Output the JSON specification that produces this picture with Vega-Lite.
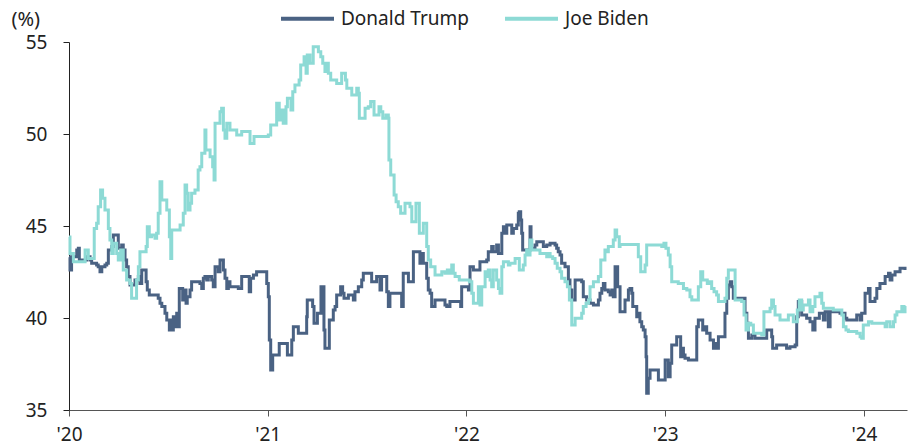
{
  "$schema": "https://vega.github.io/schema/vega-lite/v6.json",
  "width": 838,
  "height": 368,
  "autosize": {"type": "none"},
  "padding": {"left": 69, "top": 42, "right": 5, "bottom": 37},
  "background": "white",
  "config": {
    "view": {"stroke": null},
    "font": "Noto Sans",
    "axis": {"labelFont": "Noto Sans", "titleFont": "Noto Sans", "labelColor": "#222", "titleColor": "#222", "grid": false}
  },
  "data": {
    "values": [
      {"s":"Donald Trump","t":2020.000,"v":43.30},{"s":"Donald Trump","t":2020.005,"v":42.61},{"s":"Donald Trump","t":2020.013,"v":43.33},{"s":"Donald Trump","t":2020.039,"v":43.70},{"s":"Donald Trump","t":2020.047,"v":43.79},{"s":"Donald Trump","t":2020.052,"v":43.15},{"s":"Donald Trump","t":2020.089,"v":43.33},{"s":"Donald Trump","t":2020.106,"v":43.15},{"s":"Donald Trump","t":2020.114,"v":42.97},{"s":"Donald Trump","t":2020.139,"v":42.88},{"s":"Donald Trump","t":2020.147,"v":42.79},{"s":"Donald Trump","t":2020.156,"v":42.52},{"s":"Donald Trump","t":2020.165,"v":42.79},{"s":"Donald Trump","t":2020.181,"v":42.88},{"s":"Donald Trump","t":2020.190,"v":42.97},{"s":"Donald Trump","t":2020.198,"v":43.70},{"s":"Donald Trump","t":2020.215,"v":43.88},{"s":"Donald Trump","t":2020.223,"v":44.51},{"s":"Donald Trump","t":2020.248,"v":43.79},{"s":"Donald Trump","t":2020.265,"v":43.97},{"s":"Donald Trump","t":2020.273,"v":43.70},{"s":"Donald Trump","t":2020.282,"v":43.15},{"s":"Donald Trump","t":2020.290,"v":42.79},{"s":"Donald Trump","t":2020.298,"v":42.25},{"s":"Donald Trump","t":2020.307,"v":41.79},{"s":"Donald Trump","t":2020.332,"v":42.07},{"s":"Donald Trump","t":2020.349,"v":42.25},{"s":"Donald Trump","t":2020.357,"v":41.88},{"s":"Donald Trump","t":2020.366,"v":42.61},{"s":"Donald Trump","t":2020.388,"v":41.97},{"s":"Donald Trump","t":2020.394,"v":41.52},{"s":"Donald Trump","t":2020.404,"v":41.25},{"s":"Donald Trump","t":2020.449,"v":41.07},{"s":"Donald Trump","t":2020.458,"v":40.80},{"s":"Donald Trump","t":2020.467,"v":40.62},{"s":"Donald Trump","t":2020.483,"v":40.26},{"s":"Donald Trump","t":2020.492,"v":39.89},{"s":"Donald Trump","t":2020.505,"v":39.35},{"s":"Donald Trump","t":2020.512,"v":39.89},{"s":"Donald Trump","t":2020.518,"v":39.35},{"s":"Donald Trump","t":2020.525,"v":40.07},{"s":"Donald Trump","t":2020.533,"v":39.53},{"s":"Donald Trump","t":2020.542,"v":40.26},{"s":"Donald Trump","t":2020.547,"v":39.53},{"s":"Donald Trump","t":2020.555,"v":41.61},{"s":"Donald Trump","t":2020.572,"v":40.98},{"s":"Donald Trump","t":2020.579,"v":41.52},{"s":"Donald Trump","t":2020.589,"v":40.80},{"s":"Donald Trump","t":2020.595,"v":41.16},{"s":"Donald Trump","t":2020.609,"v":41.52},{"s":"Donald Trump","t":2020.617,"v":41.97},{"s":"Donald Trump","t":2020.659,"v":41.88},{"s":"Donald Trump","t":2020.668,"v":41.61},{"s":"Donald Trump","t":2020.676,"v":42.16},{"s":"Donald Trump","t":2020.684,"v":42.25},{"s":"Donald Trump","t":2020.693,"v":42.07},{"s":"Donald Trump","t":2020.701,"v":42.25},{"s":"Donald Trump","t":2020.718,"v":42.07},{"s":"Donald Trump","t":2020.726,"v":41.70},{"s":"Donald Trump","t":2020.735,"v":42.79},{"s":"Donald Trump","t":2020.751,"v":42.52},{"s":"Donald Trump","t":2020.760,"v":43.15},{"s":"Donald Trump","t":2020.777,"v":42.61},{"s":"Donald Trump","t":2020.785,"v":42.16},{"s":"Donald Trump","t":2020.794,"v":41.61},{"s":"Donald Trump","t":2020.802,"v":41.97},{"s":"Donald Trump","t":2020.810,"v":41.70},{"s":"Donald Trump","t":2020.852,"v":41.61},{"s":"Donald Trump","t":2020.869,"v":42.25},{"s":"Donald Trump","t":2020.907,"v":41.43},{"s":"Donald Trump","t":2020.914,"v":42.16},{"s":"Donald Trump","t":2020.928,"v":42.34},{"s":"Donald Trump","t":2020.944,"v":42.52},{"s":"Donald Trump","t":2020.995,"v":41.88},{"s":"Donald Trump","t":2021.003,"v":41.16},{"s":"Donald Trump","t":2021.008,"v":38.80},{"s":"Donald Trump","t":2021.015,"v":37.17},{"s":"Donald Trump","t":2021.025,"v":37.99},{"s":"Donald Trump","t":2021.058,"v":38.62},{"s":"Donald Trump","t":2021.099,"v":37.99},{"s":"Donald Trump","t":2021.121,"v":38.80},{"s":"Donald Trump","t":2021.129,"v":39.53},{"s":"Donald Trump","t":2021.154,"v":39.17},{"s":"Donald Trump","t":2021.196,"v":40.07},{"s":"Donald Trump","t":2021.199,"v":40.98},{"s":"Donald Trump","t":2021.226,"v":40.62},{"s":"Donald Trump","t":2021.233,"v":39.71},{"s":"Donald Trump","t":2021.250,"v":40.26},{"s":"Donald Trump","t":2021.268,"v":41.70},{"s":"Donald Trump","t":2021.283,"v":39.35},{"s":"Donald Trump","t":2021.288,"v":38.35},{"s":"Donald Trump","t":2021.310,"v":39.89},{"s":"Donald Trump","t":2021.330,"v":40.43},{"s":"Donald Trump","t":2021.339,"v":40.62},{"s":"Donald Trump","t":2021.347,"v":41.25},{"s":"Donald Trump","t":2021.367,"v":41.70},{"s":"Donald Trump","t":2021.377,"v":41.34},{"s":"Donald Trump","t":2021.384,"v":41.07},{"s":"Donald Trump","t":2021.406,"v":41.25},{"s":"Donald Trump","t":2021.431,"v":40.98},{"s":"Donald Trump","t":2021.439,"v":41.43},{"s":"Donald Trump","t":2021.456,"v":41.70},{"s":"Donald Trump","t":2021.473,"v":42.07},{"s":"Donald Trump","t":2021.481,"v":42.43},{"s":"Donald Trump","t":2021.523,"v":41.97},{"s":"Donald Trump","t":2021.548,"v":42.25},{"s":"Donald Trump","t":2021.565,"v":41.52},{"s":"Donald Trump","t":2021.573,"v":42.25},{"s":"Donald Trump","t":2021.599,"v":41.43},{"s":"Donald Trump","t":2021.607,"v":40.62},{"s":"Donald Trump","t":2021.615,"v":41.34},{"s":"Donald Trump","t":2021.674,"v":40.62},{"s":"Donald Trump","t":2021.682,"v":42.43},{"s":"Donald Trump","t":2021.708,"v":41.97},{"s":"Donald Trump","t":2021.733,"v":43.60},{"s":"Donald Trump","t":2021.766,"v":42.97},{"s":"Donald Trump","t":2021.775,"v":43.51},{"s":"Donald Trump","t":2021.783,"v":42.97},{"s":"Donald Trump","t":2021.800,"v":42.16},{"s":"Donald Trump","t":2021.808,"v":41.52},{"s":"Donald Trump","t":2021.817,"v":41.34},{"s":"Donald Trump","t":2021.825,"v":40.62},{"s":"Donald Trump","t":2021.842,"v":40.98},{"s":"Donald Trump","t":2021.892,"v":40.71},{"s":"Donald Trump","t":2021.901,"v":40.62},{"s":"Donald Trump","t":2021.917,"v":40.89},{"s":"Donald Trump","t":2021.971,"v":40.62},{"s":"Donald Trump","t":2021.976,"v":41.70},{"s":"Donald Trump","t":2022.010,"v":41.52},{"s":"Donald Trump","t":2022.018,"v":42.79},{"s":"Donald Trump","t":2022.035,"v":42.61},{"s":"Donald Trump","t":2022.068,"v":43.06},{"s":"Donald Trump","t":2022.102,"v":43.15},{"s":"Donald Trump","t":2022.110,"v":43.60},{"s":"Donald Trump","t":2022.127,"v":43.88},{"s":"Donald Trump","t":2022.135,"v":43.60},{"s":"Donald Trump","t":2022.152,"v":43.97},{"s":"Donald Trump","t":2022.161,"v":43.51},{"s":"Donald Trump","t":2022.178,"v":44.60},{"s":"Donald Trump","t":2022.186,"v":44.96},{"s":"Donald Trump","t":2022.194,"v":44.60},{"s":"Donald Trump","t":2022.203,"v":45.05},{"s":"Donald Trump","t":2022.228,"v":44.60},{"s":"Donald Trump","t":2022.236,"v":44.87},{"s":"Donald Trump","t":2022.253,"v":45.05},{"s":"Donald Trump","t":2022.261,"v":45.69},{"s":"Donald Trump","t":2022.266,"v":45.78},{"s":"Donald Trump","t":2022.273,"v":45.33},{"s":"Donald Trump","t":2022.278,"v":44.60},{"s":"Donald Trump","t":2022.283,"v":43.70},{"s":"Donald Trump","t":2022.320,"v":44.96},{"s":"Donald Trump","t":2022.325,"v":43.79},{"s":"Donald Trump","t":2022.345,"v":43.97},{"s":"Donald Trump","t":2022.354,"v":44.15},{"s":"Donald Trump","t":2022.387,"v":43.88},{"s":"Donald Trump","t":2022.404,"v":43.97},{"s":"Donald Trump","t":2022.421,"v":44.06},{"s":"Donald Trump","t":2022.446,"v":43.97},{"s":"Donald Trump","t":2022.454,"v":43.79},{"s":"Donald Trump","t":2022.462,"v":43.60},{"s":"Donald Trump","t":2022.471,"v":43.42},{"s":"Donald Trump","t":2022.479,"v":42.97},{"s":"Donald Trump","t":2022.496,"v":42.79},{"s":"Donald Trump","t":2022.513,"v":42.07},{"s":"Donald Trump","t":2022.521,"v":41.52},{"s":"Donald Trump","t":2022.530,"v":40.98},{"s":"Donald Trump","t":2022.547,"v":42.07},{"s":"Donald Trump","t":2022.580,"v":41.97},{"s":"Donald Trump","t":2022.588,"v":41.16},{"s":"Donald Trump","t":2022.605,"v":40.98},{"s":"Donald Trump","t":2022.622,"v":40.80},{"s":"Donald Trump","t":2022.639,"v":40.71},{"s":"Donald Trump","t":2022.664,"v":40.98},{"s":"Donald Trump","t":2022.672,"v":41.34},{"s":"Donald Trump","t":2022.681,"v":41.61},{"s":"Donald Trump","t":2022.689,"v":41.88},{"s":"Donald Trump","t":2022.697,"v":41.52},{"s":"Donald Trump","t":2022.714,"v":41.43},{"s":"Donald Trump","t":2022.723,"v":41.25},{"s":"Donald Trump","t":2022.731,"v":41.52},{"s":"Donald Trump","t":2022.739,"v":41.16},{"s":"Donald Trump","t":2022.748,"v":42.79},{"s":"Donald Trump","t":2022.761,"v":41.70},{"s":"Donald Trump","t":2022.773,"v":40.34},{"s":"Donald Trump","t":2022.798,"v":40.98},{"s":"Donald Trump","t":2022.815,"v":41.52},{"s":"Donald Trump","t":2022.823,"v":41.61},{"s":"Donald Trump","t":2022.832,"v":41.34},{"s":"Donald Trump","t":2022.837,"v":40.62},{"s":"Donald Trump","t":2022.857,"v":40.07},{"s":"Donald Trump","t":2022.865,"v":40.26},{"s":"Donald Trump","t":2022.873,"v":39.80},{"s":"Donald Trump","t":2022.882,"v":39.53},{"s":"Donald Trump","t":2022.890,"v":39.35},{"s":"Donald Trump","t":2022.899,"v":38.98},{"s":"Donald Trump","t":2022.904,"v":37.90},{"s":"Donald Trump","t":2022.907,"v":35.91},{"s":"Donald Trump","t":2022.915,"v":36.72},{"s":"Donald Trump","t":2022.924,"v":37.17},{"s":"Donald Trump","t":2022.966,"v":36.63},{"s":"Donald Trump","t":2023.000,"v":37.72},{"s":"Donald Trump","t":2023.016,"v":36.81},{"s":"Donald Trump","t":2023.025,"v":37.54},{"s":"Donald Trump","t":2023.033,"v":38.53},{"s":"Donald Trump","t":2023.058,"v":38.98},{"s":"Donald Trump","t":2023.078,"v":37.90},{"s":"Donald Trump","t":2023.085,"v":38.35},{"s":"Donald Trump","t":2023.092,"v":37.99},{"s":"Donald Trump","t":2023.100,"v":37.81},{"s":"Donald Trump","t":2023.117,"v":37.72},{"s":"Donald Trump","t":2023.159,"v":39.53},{"s":"Donald Trump","t":2023.167,"v":39.89},{"s":"Donald Trump","t":2023.189,"v":39.35},{"s":"Donald Trump","t":2023.201,"v":39.53},{"s":"Donald Trump","t":2023.209,"v":39.17},{"s":"Donald Trump","t":2023.226,"v":38.80},{"s":"Donald Trump","t":2023.243,"v":38.35},{"s":"Donald Trump","t":2023.251,"v":38.62},{"s":"Donald Trump","t":2023.259,"v":38.35},{"s":"Donald Trump","t":2023.268,"v":38.98},{"s":"Donald Trump","t":2023.301,"v":40.26},{"s":"Donald Trump","t":2023.310,"v":41.07},{"s":"Donald Trump","t":2023.318,"v":41.79},{"s":"Donald Trump","t":2023.327,"v":41.97},{"s":"Donald Trump","t":2023.335,"v":41.70},{"s":"Donald Trump","t":2023.343,"v":41.07},{"s":"Donald Trump","t":2023.402,"v":40.26},{"s":"Donald Trump","t":2023.411,"v":39.71},{"s":"Donald Trump","t":2023.419,"v":38.90},{"s":"Donald Trump","t":2023.436,"v":39.08},{"s":"Donald Trump","t":2023.452,"v":38.90},{"s":"Donald Trump","t":2023.511,"v":39.35},{"s":"Donald Trump","t":2023.536,"v":38.98},{"s":"Donald Trump","t":2023.541,"v":38.35},{"s":"Donald Trump","t":2023.561,"v":38.53},{"s":"Donald Trump","t":2023.611,"v":38.35},{"s":"Donald Trump","t":2023.628,"v":38.44},{"s":"Donald Trump","t":2023.654,"v":38.53},{"s":"Donald Trump","t":2023.662,"v":40.07},{"s":"Donald Trump","t":2023.670,"v":40.89},{"s":"Donald Trump","t":2023.687,"v":40.16},{"s":"Donald Trump","t":2023.712,"v":39.98},{"s":"Donald Trump","t":2023.729,"v":39.80},{"s":"Donald Trump","t":2023.743,"v":39.35},{"s":"Donald Trump","t":2023.754,"v":39.98},{"s":"Donald Trump","t":2023.776,"v":40.26},{"s":"Donald Trump","t":2023.796,"v":39.89},{"s":"Donald Trump","t":2023.805,"v":40.34},{"s":"Donald Trump","t":2023.821,"v":39.53},{"s":"Donald Trump","t":2023.830,"v":40.34},{"s":"Donald Trump","t":2023.880,"v":40.26},{"s":"Donald Trump","t":2023.905,"v":39.98},{"s":"Donald Trump","t":2023.914,"v":39.89},{"s":"Donald Trump","t":2023.964,"v":40.16},{"s":"Donald Trump","t":2023.981,"v":39.89},{"s":"Donald Trump","t":2023.989,"v":40.26},{"s":"Donald Trump","t":2024.006,"v":41.34},{"s":"Donald Trump","t":2024.023,"v":41.61},{"s":"Donald Trump","t":2024.031,"v":40.89},{"s":"Donald Trump","t":2024.056,"v":41.07},{"s":"Donald Trump","t":2024.065,"v":41.61},{"s":"Donald Trump","t":2024.081,"v":41.88},{"s":"Donald Trump","t":2024.107,"v":42.25},{"s":"Donald Trump","t":2024.124,"v":42.43},{"s":"Donald Trump","t":2024.132,"v":42.07},{"s":"Donald Trump","t":2024.141,"v":42.34},{"s":"Donald Trump","t":2024.157,"v":42.52},{"s":"Donald Trump","t":2024.182,"v":42.70},{"s":"Donald Trump","t":2024.207,"v":42.61},
      {"s":"Joe Biden","t":2020.000,"v":44.40},{"s":"Joe Biden","t":2020.005,"v":43.51},{"s":"Joe Biden","t":2020.022,"v":43.06},{"s":"Joe Biden","t":2020.081,"v":43.70},{"s":"Joe Biden","t":2020.097,"v":43.24},{"s":"Joe Biden","t":2020.127,"v":44.87},{"s":"Joe Biden","t":2020.139,"v":45.15},{"s":"Joe Biden","t":2020.147,"v":46.05},{"s":"Joe Biden","t":2020.159,"v":46.96},{"s":"Joe Biden","t":2020.169,"v":46.51},{"s":"Joe Biden","t":2020.181,"v":45.87},{"s":"Joe Biden","t":2020.198,"v":44.87},{"s":"Joe Biden","t":2020.206,"v":44.24},{"s":"Joe Biden","t":2020.215,"v":43.51},{"s":"Joe Biden","t":2020.223,"v":44.06},{"s":"Joe Biden","t":2020.240,"v":43.51},{"s":"Joe Biden","t":2020.248,"v":43.15},{"s":"Joe Biden","t":2020.260,"v":43.70},{"s":"Joe Biden","t":2020.273,"v":42.61},{"s":"Joe Biden","t":2020.290,"v":42.07},{"s":"Joe Biden","t":2020.307,"v":41.88},{"s":"Joe Biden","t":2020.315,"v":41.07},{"s":"Joe Biden","t":2020.340,"v":42.07},{"s":"Joe Biden","t":2020.349,"v":42.79},{"s":"Joe Biden","t":2020.357,"v":43.60},{"s":"Joe Biden","t":2020.388,"v":43.88},{"s":"Joe Biden","t":2020.394,"v":44.96},{"s":"Joe Biden","t":2020.404,"v":44.42},{"s":"Joe Biden","t":2020.416,"v":44.51},{"s":"Joe Biden","t":2020.433,"v":44.33},{"s":"Joe Biden","t":2020.441,"v":44.60},{"s":"Joe Biden","t":2020.449,"v":45.69},{"s":"Joe Biden","t":2020.458,"v":47.41},{"s":"Joe Biden","t":2020.467,"v":46.41},{"s":"Joe Biden","t":2020.492,"v":45.87},{"s":"Joe Biden","t":2020.505,"v":44.42},{"s":"Joe Biden","t":2020.512,"v":43.24},{"s":"Joe Biden","t":2020.517,"v":44.78},{"s":"Joe Biden","t":2020.559,"v":45.05},{"s":"Joe Biden","t":2020.575,"v":45.69},{"s":"Joe Biden","t":2020.584,"v":47.23},{"s":"Joe Biden","t":2020.592,"v":46.78},{"s":"Joe Biden","t":2020.600,"v":45.87},{"s":"Joe Biden","t":2020.609,"v":46.23},{"s":"Joe Biden","t":2020.617,"v":46.78},{"s":"Joe Biden","t":2020.634,"v":46.96},{"s":"Joe Biden","t":2020.650,"v":48.04},{"s":"Joe Biden","t":2020.659,"v":48.22},{"s":"Joe Biden","t":2020.668,"v":48.95},{"s":"Joe Biden","t":2020.684,"v":50.22},{"s":"Joe Biden","t":2020.689,"v":49.13},{"s":"Joe Biden","t":2020.710,"v":48.77},{"s":"Joe Biden","t":2020.723,"v":48.22},{"s":"Joe Biden","t":2020.730,"v":47.50},{"s":"Joe Biden","t":2020.735,"v":50.58},{"s":"Joe Biden","t":2020.760,"v":51.21},{"s":"Joe Biden","t":2020.768,"v":51.40},{"s":"Joe Biden","t":2020.777,"v":50.22},{"s":"Joe Biden","t":2020.785,"v":49.77},{"s":"Joe Biden","t":2020.794,"v":50.58},{"s":"Joe Biden","t":2020.810,"v":50.22},{"s":"Joe Biden","t":2020.844,"v":49.95},{"s":"Joe Biden","t":2020.869,"v":50.13},{"s":"Joe Biden","t":2020.911,"v":49.49},{"s":"Joe Biden","t":2020.931,"v":49.86},{"s":"Joe Biden","t":2021.003,"v":49.95},{"s":"Joe Biden","t":2021.015,"v":50.49},{"s":"Joe Biden","t":2021.045,"v":51.67},{"s":"Joe Biden","t":2021.058,"v":50.76},{"s":"Joe Biden","t":2021.070,"v":51.30},{"s":"Joe Biden","t":2021.078,"v":50.58},{"s":"Joe Biden","t":2021.092,"v":51.48},{"s":"Joe Biden","t":2021.099,"v":51.94},{"s":"Joe Biden","t":2021.117,"v":51.30},{"s":"Joe Biden","t":2021.126,"v":52.30},{"s":"Joe Biden","t":2021.137,"v":52.66},{"s":"Joe Biden","t":2021.158,"v":52.93},{"s":"Joe Biden","t":2021.166,"v":53.75},{"s":"Joe Biden","t":2021.183,"v":54.20},{"s":"Joe Biden","t":2021.193,"v":53.30},{"s":"Joe Biden","t":2021.199,"v":54.29},{"s":"Joe Biden","t":2021.213,"v":53.84},{"s":"Joe Biden","t":2021.229,"v":54.74},{"s":"Joe Biden","t":2021.255,"v":54.47},{"s":"Joe Biden","t":2021.267,"v":54.20},{"s":"Joe Biden","t":2021.277,"v":53.84},{"s":"Joe Biden","t":2021.288,"v":53.39},{"s":"Joe Biden","t":2021.297,"v":53.84},{"s":"Joe Biden","t":2021.305,"v":53.30},{"s":"Joe Biden","t":2021.317,"v":52.93},{"s":"Joe Biden","t":2021.347,"v":52.75},{"s":"Joe Biden","t":2021.372,"v":53.30},{"s":"Joe Biden","t":2021.391,"v":52.93},{"s":"Joe Biden","t":2021.398,"v":52.48},{"s":"Joe Biden","t":2021.423,"v":52.12},{"s":"Joe Biden","t":2021.448,"v":52.48},{"s":"Joe Biden","t":2021.456,"v":52.21},{"s":"Joe Biden","t":2021.461,"v":50.85},{"s":"Joe Biden","t":2021.490,"v":51.40},{"s":"Joe Biden","t":2021.506,"v":51.48},{"s":"Joe Biden","t":2021.518,"v":51.76},{"s":"Joe Biden","t":2021.535,"v":51.03},{"s":"Joe Biden","t":2021.560,"v":51.48},{"s":"Joe Biden","t":2021.569,"v":51.21},{"s":"Joe Biden","t":2021.579,"v":50.85},{"s":"Joe Biden","t":2021.595,"v":51.03},{"s":"Joe Biden","t":2021.607,"v":50.85},{"s":"Joe Biden","t":2021.610,"v":48.59},{"s":"Joe Biden","t":2021.619,"v":47.77},{"s":"Joe Biden","t":2021.636,"v":46.68},{"s":"Joe Biden","t":2021.646,"v":46.32},{"s":"Joe Biden","t":2021.657,"v":46.05},{"s":"Joe Biden","t":2021.669,"v":45.69},{"s":"Joe Biden","t":2021.691,"v":46.23},{"s":"Joe Biden","t":2021.716,"v":46.05},{"s":"Joe Biden","t":2021.725,"v":45.23},{"s":"Joe Biden","t":2021.746,"v":46.23},{"s":"Joe Biden","t":2021.763,"v":44.60},{"s":"Joe Biden","t":2021.783,"v":45.15},{"s":"Joe Biden","t":2021.800,"v":43.88},{"s":"Joe Biden","t":2021.808,"v":43.15},{"s":"Joe Biden","t":2021.820,"v":42.79},{"s":"Joe Biden","t":2021.842,"v":42.34},{"s":"Joe Biden","t":2021.876,"v":42.52},{"s":"Joe Biden","t":2021.892,"v":42.43},{"s":"Joe Biden","t":2021.904,"v":42.61},{"s":"Joe Biden","t":2021.914,"v":42.43},{"s":"Joe Biden","t":2021.926,"v":42.88},{"s":"Joe Biden","t":2021.934,"v":42.43},{"s":"Joe Biden","t":2021.943,"v":42.25},{"s":"Joe Biden","t":2021.964,"v":42.07},{"s":"Joe Biden","t":2022.015,"v":41.97},{"s":"Joe Biden","t":2022.027,"v":41.34},{"s":"Joe Biden","t":2022.035,"v":40.80},{"s":"Joe Biden","t":2022.060,"v":41.70},{"s":"Joe Biden","t":2022.068,"v":40.71},{"s":"Joe Biden","t":2022.077,"v":41.70},{"s":"Joe Biden","t":2022.094,"v":42.52},{"s":"Joe Biden","t":2022.102,"v":42.25},{"s":"Joe Biden","t":2022.110,"v":42.61},{"s":"Joe Biden","t":2022.119,"v":42.07},{"s":"Joe Biden","t":2022.127,"v":41.70},{"s":"Joe Biden","t":2022.135,"v":42.61},{"s":"Joe Biden","t":2022.152,"v":42.07},{"s":"Joe Biden","t":2022.161,"v":41.61},{"s":"Joe Biden","t":2022.169,"v":41.34},{"s":"Joe Biden","t":2022.178,"v":42.79},{"s":"Joe Biden","t":2022.186,"v":43.06},{"s":"Joe Biden","t":2022.211,"v":42.88},{"s":"Joe Biden","t":2022.219,"v":42.97},{"s":"Joe Biden","t":2022.245,"v":43.24},{"s":"Joe Biden","t":2022.266,"v":42.61},{"s":"Joe Biden","t":2022.286,"v":42.88},{"s":"Joe Biden","t":2022.295,"v":43.42},{"s":"Joe Biden","t":2022.303,"v":43.70},{"s":"Joe Biden","t":2022.312,"v":43.42},{"s":"Joe Biden","t":2022.320,"v":44.24},{"s":"Joe Biden","t":2022.329,"v":43.70},{"s":"Joe Biden","t":2022.370,"v":43.51},{"s":"Joe Biden","t":2022.404,"v":43.33},{"s":"Joe Biden","t":2022.412,"v":43.51},{"s":"Joe Biden","t":2022.421,"v":43.33},{"s":"Joe Biden","t":2022.434,"v":43.24},{"s":"Joe Biden","t":2022.446,"v":42.97},{"s":"Joe Biden","t":2022.457,"v":42.70},{"s":"Joe Biden","t":2022.471,"v":42.52},{"s":"Joe Biden","t":2022.479,"v":42.16},{"s":"Joe Biden","t":2022.496,"v":41.97},{"s":"Joe Biden","t":2022.508,"v":41.70},{"s":"Joe Biden","t":2022.518,"v":40.98},{"s":"Joe Biden","t":2022.530,"v":39.62},{"s":"Joe Biden","t":2022.547,"v":39.98},{"s":"Joe Biden","t":2022.580,"v":40.26},{"s":"Joe Biden","t":2022.588,"v":40.62},{"s":"Joe Biden","t":2022.602,"v":40.80},{"s":"Joe Biden","t":2022.614,"v":40.98},{"s":"Joe Biden","t":2022.622,"v":41.70},{"s":"Joe Biden","t":2022.639,"v":41.97},{"s":"Joe Biden","t":2022.664,"v":42.25},{"s":"Joe Biden","t":2022.676,"v":43.15},{"s":"Joe Biden","t":2022.697,"v":43.70},{"s":"Joe Biden","t":2022.706,"v":43.60},{"s":"Joe Biden","t":2022.714,"v":43.88},{"s":"Joe Biden","t":2022.739,"v":44.24},{"s":"Joe Biden","t":2022.748,"v":44.78},{"s":"Joe Biden","t":2022.756,"v":44.42},{"s":"Joe Biden","t":2022.769,"v":43.88},{"s":"Joe Biden","t":2022.773,"v":44.00},{"s":"Joe Biden","t":2022.865,"v":43.33},{"s":"Joe Biden","t":2022.877,"v":42.52},{"s":"Joe Biden","t":2022.899,"v":42.88},{"s":"Joe Biden","t":2022.907,"v":43.97},{"s":"Joe Biden","t":2022.983,"v":43.88},{"s":"Joe Biden","t":2022.994,"v":44.06},{"s":"Joe Biden","t":2023.004,"v":43.79},{"s":"Joe Biden","t":2023.016,"v":43.42},{"s":"Joe Biden","t":2023.025,"v":42.79},{"s":"Joe Biden","t":2023.033,"v":41.97},{"s":"Joe Biden","t":2023.066,"v":41.88},{"s":"Joe Biden","t":2023.092,"v":41.61},{"s":"Joe Biden","t":2023.109,"v":41.52},{"s":"Joe Biden","t":2023.125,"v":41.16},{"s":"Joe Biden","t":2023.134,"v":40.98},{"s":"Joe Biden","t":2023.167,"v":41.70},{"s":"Joe Biden","t":2023.179,"v":42.52},{"s":"Joe Biden","t":2023.189,"v":42.07},{"s":"Joe Biden","t":2023.212,"v":41.88},{"s":"Joe Biden","t":2023.222,"v":41.97},{"s":"Joe Biden","t":2023.234,"v":41.61},{"s":"Joe Biden","t":2023.246,"v":41.43},{"s":"Joe Biden","t":2023.259,"v":41.25},{"s":"Joe Biden","t":2023.268,"v":40.89},{"s":"Joe Biden","t":2023.301,"v":41.07},{"s":"Joe Biden","t":2023.310,"v":42.16},{"s":"Joe Biden","t":2023.318,"v":42.61},{"s":"Joe Biden","t":2023.352,"v":40.98},{"s":"Joe Biden","t":2023.385,"v":40.89},{"s":"Joe Biden","t":2023.397,"v":40.16},{"s":"Joe Biden","t":2023.407,"v":39.35},{"s":"Joe Biden","t":2023.419,"v":39.71},{"s":"Joe Biden","t":2023.431,"v":39.62},{"s":"Joe Biden","t":2023.444,"v":39.17},{"s":"Joe Biden","t":2023.486,"v":39.08},{"s":"Joe Biden","t":2023.497,"v":40.34},{"s":"Joe Biden","t":2023.528,"v":40.53},{"s":"Joe Biden","t":2023.536,"v":40.98},{"s":"Joe Biden","t":2023.545,"v":40.62},{"s":"Joe Biden","t":2023.553,"v":40.16},{"s":"Joe Biden","t":2023.578,"v":39.89},{"s":"Joe Biden","t":2023.620,"v":40.16},{"s":"Joe Biden","t":2023.645,"v":39.80},{"s":"Joe Biden","t":2023.665,"v":40.43},{"s":"Joe Biden","t":2023.675,"v":40.98},{"s":"Joe Biden","t":2023.687,"v":40.43},{"s":"Joe Biden","t":2023.695,"v":40.71},{"s":"Joe Biden","t":2023.721,"v":40.98},{"s":"Joe Biden","t":2023.729,"v":40.34},{"s":"Joe Biden","t":2023.743,"v":40.62},{"s":"Joe Biden","t":2023.754,"v":41.16},{"s":"Joe Biden","t":2023.779,"v":41.34},{"s":"Joe Biden","t":2023.788,"v":40.80},{"s":"Joe Biden","t":2023.796,"v":40.53},{"s":"Joe Biden","t":2023.846,"v":40.43},{"s":"Joe Biden","t":2023.889,"v":40.16},{"s":"Joe Biden","t":2023.897,"v":39.53},{"s":"Joe Biden","t":2023.910,"v":39.35},{"s":"Joe Biden","t":2023.922,"v":39.26},{"s":"Joe Biden","t":2023.964,"v":39.17},{"s":"Joe Biden","t":2023.981,"v":38.98},{"s":"Joe Biden","t":2023.989,"v":38.90},{"s":"Joe Biden","t":2023.997,"v":39.62},{"s":"Joe Biden","t":2024.023,"v":39.80},{"s":"Joe Biden","t":2024.040,"v":39.71},{"s":"Joe Biden","t":2024.107,"v":39.53},{"s":"Joe Biden","t":2024.115,"v":39.80},{"s":"Joe Biden","t":2024.132,"v":39.53},{"s":"Joe Biden","t":2024.149,"v":39.80},{"s":"Joe Biden","t":2024.157,"v":40.16},{"s":"Joe Biden","t":2024.166,"v":40.34},{"s":"Joe Biden","t":2024.191,"v":40.62},{"s":"Joe Biden","t":2024.202,"v":40.34},{"s":"Joe Biden","t":2024.207,"v":40.65}
    ]
  },
  "mark": {"type": "line", "interpolate": "step-after", "strokeWidth": 3, "strokeJoin": "miter"},
  "encoding": {
    "x": {
      "field": "t",
      "type": "quantitative",
      "scale": {"domain": [2020, 2024.217], "nice": false, "zero": false},
      "axis": {
        "title": null,
        "values": [2020, 2021, 2022, 2023, 2024],
        "labelExpr": "\"'\" + slice(format(datum.value, 'd'), 2)",
        "labelFontSize": 19,
        "labelPadding": 9,
        "tickSize": 6,
        "tickColor": "#555",
        "domainColor": "#555",
        "labelFlush": false
      }
    },
    "y": {
      "field": "v",
      "type": "quantitative",
      "scale": {"domain": [35, 55], "nice": false, "zero": false},
      "axis": {
        "title": "(%)",
        "titleAngle": 0,
        "titleAlign": "left",
        "titleBaseline": "middle",
        "titleX": -58,
        "titleY": -23,
        "titleFontSize": 20,
        "titleFontWeight": "normal",
        "values": [35, 40, 45, 50, 55],
        "labelFontSize": 19,
        "labelPadding": 16,
        "tickSize": 6,
        "tickColor": "#222",
        "domainColor": "#222"
      }
    },
    "color": {
      "field": "s",
      "type": "nominal",
      "scale": {"domain": ["Donald Trump", "Joe Biden"], "range": ["#4a6283", "#8ddad5"]},
      "legend": {
        "title": null,
        "orient": "none",
        "legendX": 210,
        "legendY": -52,
        "direction": "horizontal",
        "symbolType": "stroke",
        "symbolSize": 2809,
        "symbolStrokeWidth": 4,
        "labelFontSize": 19,
        "labelColor": "#222",
        "labelOffset": 5,
        "columnPadding": 28
      }
    }
  }
}
